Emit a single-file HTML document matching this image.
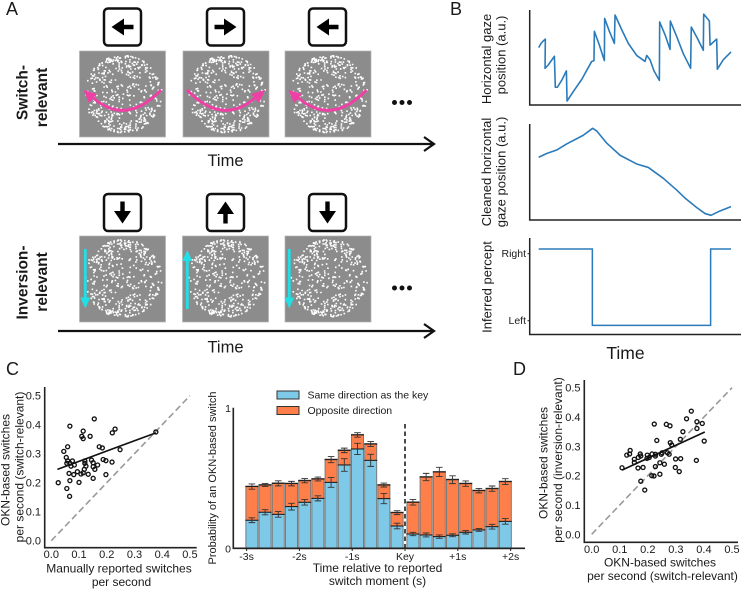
<!DOCTYPE html>
<html>
<head>
<meta charset="utf-8">
<title>OKN-based switch figure</title>
<style>
html,body{margin:0;padding:0;background:#fff;}
svg{display:block;filter:blur(.3px);}
text{font-family:"Liberation Sans",sans-serif;fill:#1a1a1a;}
</style>
</head>
<body>
<svg id="fig" width="741" height="589" viewBox="0 0 741 589" xmlns="http://www.w3.org/2000/svg">
<defs>
  <path id="stim-dots" fill="#fff" d=""></path>
  <path id="key-arrow" fill="#000" d="M-11,0 L1.5,-8.5 L1.5,-2.2 L11,-2.2 L11,2.2 L1.5,2.2 L1.5,8.5 Z"></path>
</defs>

<!-- Panel letters -->
<text x="6" y="15" font-size="18">A</text>
<text x="450" y="15" font-size="18">B</text>
<text x="6" y="375" font-size="18">C</text>
<text x="513" y="375" font-size="18">D</text>

<!-- Panel A top row -->
<g>
  <text transform="translate(27.5,92.5) rotate(-90)" text-anchor="middle" font-size="15.5" font-weight="bold">Switch-</text>
  <text transform="translate(47,97.5) rotate(-90)" text-anchor="middle" font-size="15.5" font-weight="bold">relevant</text>

  <rect x="104" y="8.5" width="37" height="37" rx="4" fill="#fff" stroke="#111" stroke-width="2.5"/>
  <use href="#key-arrow" transform="translate(122.5,27)"/>
  <rect x="207" y="8.5" width="37" height="37" rx="4" fill="#fff" stroke="#111" stroke-width="2.5"/>
  <use href="#key-arrow" transform="translate(225.5,27) rotate(180)"/>
  <rect x="309" y="8.5" width="37" height="37" rx="4" fill="#fff" stroke="#111" stroke-width="2.5"/>
  <use href="#key-arrow" transform="translate(327.5,27)"/>

  <rect x="79.5" y="51" width="86" height="86" fill="#8c8c8c" stroke="#b4b4b4" stroke-width="0.7"/>
  <use href="#stim-dots" transform="translate(122.5,93.5)"/>
  <rect x="183" y="51" width="86" height="86" fill="#8c8c8c" stroke="#b4b4b4" stroke-width="0.7"/>
  <use href="#stim-dots" transform="translate(226,93.5)"/>
  <rect x="285" y="51" width="86" height="86" fill="#8c8c8c" stroke="#b4b4b4" stroke-width="0.7"/>
  <use href="#stim-dots" transform="translate(328,93.5)"/>

  <path d="M161,90 Q124,128 90,95" fill="none" stroke="#f03fa5" stroke-width="2.8"/>
  <path d="M83.5,90 L97,94 L89,103 Z" fill="#f03fa5"/>
  <path d="M187,90 Q224,128 258,95" fill="none" stroke="#f03fa5" stroke-width="2.8"/>
  <path d="M265,90 L251,94 L259,103 Z" fill="#f03fa5"/>
  <path d="M366.5,90 Q330,128 295,95" fill="none" stroke="#f03fa5" stroke-width="2.8"/>
  <path d="M288.5,90 L302,94 L294,103 Z" fill="#f03fa5"/>

  <circle cx="394.5" cy="102.5" r="2.5" fill="#111"/>
  <circle cx="402" cy="102.5" r="2.5" fill="#111"/>
  <circle cx="409.5" cy="102.5" r="2.5" fill="#111"/>

  <path d="M58,144 H433 M424,137 L434,144 L424,151" fill="none" stroke="#111" stroke-width="2.2"/>
  <text x="225.5" y="166" text-anchor="middle" font-size="16.5">Time</text>
</g>

<!-- Panel A bottom row -->
<g>
  <text transform="translate(27.5,282.5) rotate(-90)" text-anchor="middle" font-size="15.5" font-weight="bold">Inversion-</text>
  <text transform="translate(47,282) rotate(-90)" text-anchor="middle" font-size="15.5" font-weight="bold">relevant</text>

  <rect x="104" y="194" width="37" height="37" rx="4" fill="#fff" stroke="#111" stroke-width="2.5"/>
  <use href="#key-arrow" transform="translate(122.5,212.5) rotate(-90)"/>
  <rect x="207" y="194" width="37" height="37" rx="4" fill="#fff" stroke="#111" stroke-width="2.5"/>
  <use href="#key-arrow" transform="translate(225.5,212.5) rotate(90)"/>
  <rect x="309" y="194" width="37" height="37" rx="4" fill="#fff" stroke="#111" stroke-width="2.5"/>
  <use href="#key-arrow" transform="translate(327.5,212.5) rotate(-90)"/>

  <rect x="79.5" y="236" width="86" height="86" fill="#8c8c8c" stroke="#b4b4b4" stroke-width="0.7"/>
  <use href="#stim-dots" transform="translate(122.5,279) scale(1,-1)"/>
  <rect x="182.5" y="236" width="86" height="86" fill="#8c8c8c" stroke="#b4b4b4" stroke-width="0.7"/>
  <use href="#stim-dots" transform="translate(225.5,279) scale(1,-1)"/>
  <rect x="285" y="236" width="86" height="86" fill="#8c8c8c" stroke="#b4b4b4" stroke-width="0.7"/>
  <use href="#stim-dots" transform="translate(328,279) scale(1,-1)"/>

  <path d="M85.3,249 V300" stroke="#22dfe6" stroke-width="2.8" fill="none"/>
  <path d="M85.3,308.5 L80.3,297.5 L90.3,297.5 Z" fill="#22dfe6"/>
  <path d="M187.3,309 V259" stroke="#22dfe6" stroke-width="2.8" fill="none"/>
  <path d="M187.3,250 L182.3,261 L192.3,261 Z" fill="#22dfe6"/>
  <path d="M289.3,249 V300" stroke="#22dfe6" stroke-width="2.8" fill="none"/>
  <path d="M289.3,308.5 L284.3,297.5 L294.3,297.5 Z" fill="#22dfe6"/>

  <circle cx="394.5" cy="288" r="2.5" fill="#111"/>
  <circle cx="402" cy="288" r="2.5" fill="#111"/>
  <circle cx="409.5" cy="288" r="2.5" fill="#111"/>

  <path d="M58,331 H433 M424,324 L434,331 L424,338" fill="none" stroke="#111" stroke-width="2.2"/>
  <text x="225.5" y="352.5" text-anchor="middle" font-size="16.5">Time</text>
</g>

<!-- Panel B -->
<g id="panel-b">
  <path d="M529.7,10 V105 H741" fill="none" stroke="#222" stroke-width="1.5"/>
  <path d="M529.7,124 V220 H741" fill="none" stroke="#222" stroke-width="1.5"/>
  <path d="M529.7,238 V334.5 H741" fill="none" stroke="#222" stroke-width="1.5"/>
  <text transform="translate(491,59) rotate(-90)" text-anchor="middle" font-size="13">Horizontal gaze</text>
  <text transform="translate(505.5,55) rotate(-90)" text-anchor="middle" font-size="13">position (a.u.)</text>
  <text transform="translate(491,172) rotate(-90)" text-anchor="middle" font-size="13">Cleaned horizontal</text>
  <text transform="translate(505.5,172) rotate(-90)" text-anchor="middle" font-size="13">gaze position (a.u.)</text>
  <text transform="translate(491.5,287) rotate(-90)" text-anchor="middle" font-size="13">Inferred percept</text>
  <text x="625.5" y="359" text-anchor="middle" font-size="17.5">Time</text>
</g>

<!-- Panel C -->
<g id="panel-c">
  <text transform="translate(9.5,470) rotate(-90)" text-anchor="middle" font-size="12">OKN-based switches</text>
  <text transform="translate(23.5,467) rotate(-90)" text-anchor="middle" font-size="12">per second (switch-relevant)</text>
  <text x="119" y="572.5" text-anchor="middle" font-size="12">Manually reported switches</text>
  <text x="121.5" y="586" text-anchor="middle" font-size="12">per second</text>
</g>

<!-- Bar chart -->
<g id="panel-bars">
  <rect x="277" y="391" width="22" height="8" fill="#7ec8e8" stroke="#333" stroke-width="1"/>
  <text x="307.5" y="398.5" font-size="10.5">Same direction as the key</text>
  <rect x="277" y="406.5" width="22" height="8" fill="#ff7f4a" stroke="#333" stroke-width="1"/>
  <text x="307.5" y="414" font-size="10.5">Opposite direction</text>
  <text transform="translate(216,478) rotate(-90)" text-anchor="middle" font-size="11">Probability of an OKN-based switch</text>
  <text x="377.5" y="572" text-anchor="middle" font-size="12">Time relative to reported</text>
  <text x="377.5" y="585" text-anchor="middle" font-size="12">switch moment (s)</text>
</g>

<!-- Panel D -->
<g id="panel-d">
  <text transform="translate(547.5,463) rotate(-90)" text-anchor="middle" font-size="12">OKN-based switches</text>
  <text transform="translate(562,460) rotate(-90)" text-anchor="middle" font-size="12">per second (inversion-relevant)</text>
  <text x="660" y="566.5" text-anchor="middle" font-size="12">OKN-based switches</text>
  <text x="662.5" y="580" text-anchor="middle" font-size="12">per second (switch-relevant)</text>
</g>
</svg>

<script>
// ---------- Panel B data ----------
var rawGazeTime = [0,.24,.49,.69,.66,1.0,1.63,1.73,1.94,2.39,2.88,2.95,3.6,4.47,5.51,5.75,5.79,6.31,6.83,6.86,7.35,7.87,7.94,8.63,9.32,10.19,11.06,11.23,11.58,11.99,12.55,12.58,13.14,13.66,13.69,14.35,15.04,15.8,15.87,16.5,17.12,17.16,17.75,17.82,18.51,18.58,19.2,20];
var rawGazePos = [62,67,70,72,38,42,52,16,16,24,35,0,11,25,46,47,81,65,47,96,81,67,100,83,67,53,46,53,48,35,24,92,77,60,93,75,55,38,86,73,59,101,93,65,72,37,48,57];
var cleanGazeTime = [0,.83,1.87,2.91,4.64,5.61,6.03,7.07,8.46,10.19,11.4,12.96,14.35,15.3,16.43,17.3,17.92,18.85,20];
var cleanGazePos = [66.7,71,75,82,92,100,97,83,69,59,55,42.5,29,19,9,2,0,5,10];
var perceptTime = [0,5.58,5.58,17.88,17.88,20];
var perceptState = [1.07,1.07,-0.07,-0.07,1.07,1.07];
var perceptTickValues = [1,0];
var perceptTickLabels = ["Right","Left"];

// ---------- Panel C scatter data ----------
var cManual = [.025,.056,.066,.067,.155,.115,.11,.115,.14,.22,.23,.377,.248,.173,.184,.059,.045,.054,.059,.056,.076,.067,.083,.071,.121,.121,.125,.145,.151,.167,.151,.157,.187,.197,.219,.119,.064,.081,.094,.107,.115,.133,.197,.151,.067,.1];
var cOkn = [.2,.18,.153,.395,.42,.378,.36,.352,.36,.372,.385,.375,.314,.324,.32,.324,.308,.287,.275,.267,.275,.267,.261,.257,.275,.267,.257,.278,.269,.261,.255,.246,.28,.276,.271,.246,.232,.228,.238,.23,.234,.229,.228,.215,.207,.201];
var cFitX = [.022,.377];
var cFitY = [.246,.372];

// ---------- Panel D scatter data ----------
var dSwitch = [.108,.137,.135,.125,.152,.152,.166,.173,.175,.165,.183,.175,.189,.198,.197,.205,.215,.227,.227,.248,.251,.27,.276,.223,.266,.279,.232,.28,.285,.316,.325,.338,.355,.375,.394,.375,.401,.373,.227,.243,.259,.299,.317,.298,.312,.243,.214,.222];
var dInversion = [.227,.286,.274,.27,.256,.245,.262,.274,.267,.226,.228,.181,.151,.27,.259,.262,.274,.273,.267,.273,.278,.278,.273,.376,.375,.37,.32,.3125,.305,.324,.35,.394,.42,.384,.378,.361,.318,.252,.231,.244,.239,.257,.258,.228,.214,.205,.2,.199];
var dFitX = [.108,.403];
var dFitY = [.219,.349];
var scatterTicks = [0,.1,.2,.3,.4,.5];
var scatterTickLabels = ["0.0","0.1","0.2","0.3","0.4","0.5"];

// ---------- Bar chart data ----------
var binTimes = [-2.9,-2.65,-2.4,-2.15,-1.9,-1.65,-1.4,-1.15,-.9,-.65,-.4,-.15,.15,.4,.65,.9,1.15,1.4,1.65,1.9];
var sameDirection = [.2,.257,.242,.297,.328,.356,.47,.594,.708,.627,.354,.159,.102,.095,.083,.093,.114,.131,.154,.192];
var oppositeDirection = [.24,.194,.221,.164,.154,.138,.162,.104,.1,.116,.097,.095,.226,.413,.461,.396,.347,.28,.271,.283];
var sameError = [.017,.018,.02,.024,.02,.018,.035,.045,.04,.043,.036,.02,.012,.014,.012,.01,.012,.01,.017,.02];
var totalError = [.019,.01,.018,.016,.015,.014,.022,.016,.016,.018,.014,.014,.02,.026,.033,.028,.019,.016,.019,.021];
var barTickTimes = [-3,-2,-1,0,1,2];
var barTickLabels = ["-3s","-2s","-1s","Key","+1s","+2s"];
var barYTicks = [0,1];
var barYLabels = ["0","1"];

var NS = "http://www.w3.org/2000/svg";
function mk(tag, parent, attrs, txt) {
  var el = document.createElementNS(NS, tag);
  for (var k in attrs) el.setAttribute(k, attrs[k]);
  if (txt !== undefined) el.textContent = txt;
  parent.appendChild(el);
  return el;
}
function linePath(xs, ys, fx, fy) {
  var d = "";
  for (var i = 0; i < xs.length; i++) d += (i ? "L" : "M") + fx(xs[i]).toFixed(2) + "," + fy(ys[i]).toFixed(2);
  return d;
}

// ---------- Decorative stimulus texture (not chart data) ----------
(function () {
  var s = 12345, d = "", n = 0;
  function rnd() { s = (s * 16807) % 2147483647; return s / 2147483647; }
  while (n < 430) {
    var a = rnd() * Math.PI * 2, r = Math.sqrt(rnd()) * 39;
    var edge = Math.pow(Math.abs(Math.sin(a)), 2) * Math.pow(r / 39, 5);
    if (rnd() > 0.28 + edge) continue;
    var px = r * Math.cos(a), py = r * Math.sin(a);
    d += "M" + px.toFixed(1) + "," + py.toFixed(1) + "h1.6v1.6h-1.6z";
    n++;
  }
  document.getElementById("stim-dots").setAttribute("d", d);
})();

// ---------- Panel B ----------
var panelB = document.getElementById("panel-b");
function xB(t) { return 538.7 + t * 9.615; }
function yRaw(v) { return 101 - v * 0.86; }
function yClean(v) { return 215.3 - v * 0.87; }
function yPercept(v) { return 320.7 - v * 67; }
var traceEl;
traceEl = mk("path", panelB, { d: linePath(rawGazeTime, rawGazePos, xB, yRaw), fill: "none", stroke: "#2b7bba", "stroke-width": 1.6, "stroke-linejoin": "round" });


traceEl = mk("path", panelB, { d: linePath(cleanGazeTime, cleanGazePos, xB, yClean), fill: "none", stroke: "#2b7bba", "stroke-width": 1.6, "stroke-linejoin": "round" });


traceEl = mk("path", panelB, { d: linePath(perceptTime, perceptState, xB, yPercept), fill: "none", stroke: "#2b7bba", "stroke-width": 1.5 });


perceptTickValues.forEach(function (v, i) {
  var tick = mk("line", panelB, { x1: 527.5, x2: 529.7, y1: yPercept(v), y2: yPercept(v), stroke: "#222", "stroke-width": 1 });
  
  
  var lab = mk("text", panelB, { x: 526, y: yPercept(v) + 3.5, "text-anchor": "end", "font-size": 10.5 }, perceptTickLabels[i]);
  
  
});

// ---------- Scatter builder ----------
function drawScatter(group, fx, fy, xs, ys, fitX, fitY, axisD, tickRightX, tickBaseY) {
  var axis = mk("path", group, { d: axisD, fill: "none", stroke: "#222", "stroke-width": 1.6 });
  
  
  scatterTicks.forEach(function (v, i) {
    var xl = mk("text", group, { x: fx(v), y: tickBaseY, "text-anchor": "middle", "font-size": 11 }, scatterTickLabels[i]);
    
    
    var yl = mk("text", group, { x: tickRightX, y: fy(v) + 4, "text-anchor": "end", "font-size": 11 }, scatterTickLabels[i]);
    
    
  });
  var diag = mk("line", group, { x1: fx(0), y1: fy(0), x2: fx(.5), y2: fy(.5), stroke: "#999", "stroke-width": 1.6, "stroke-dasharray": "6.5 3.5" });
  
  
  var fit = mk("line", group, { x1: fx(fitX[0]), y1: fy(fitY[0]), x2: fx(fitX[1]), y2: fy(fitY[1]), stroke: "#111", "stroke-width": 1.6 });
  
  
  xs.forEach(function (v, i) {
    var c = mk("circle", group, { cx: fx(v), cy: fy(ys[i]), r: 2, fill: "none", stroke: "#111", "stroke-width": 1.35 });
    
    
  });
}

// Panel C
function xC(v) { return 51.3 + v * 277.3; }
function yC(v) { return 540.7 - v * 290; }
drawScatter(document.getElementById("panel-c"), xC, yC, cManual, cOkn, cFitX, cFitY, "M44.7,387 V547.7 H196.7", 41, 558);

// Panel D
function xD(v) { return 591.7 + v * 280.6; }
function yD(v) { return 534.3 - v * 293.2; }
drawScatter(document.getElementById("panel-d"), xD, yD, dSwitch, dInversion, dFitX, dFitY, "M584.3,380 V542.3 H738", 580.5, 553);

// ---------- Bar chart ----------
var barGroup = document.getElementById("panel-bars");
function xBar(t) { return 405 + t * 52.8; }
function yBar(v) { return 548.3 - v * 140.3; }
var barW = 11;
function errBar(parent, x, v, e) {
  var d = "M" + (x - 3.3) + "," + yBar(v + e) + "h6.6M" + x + "," + yBar(v + e) + "V" + yBar(v - e) + "M" + (x - 3.3) + "," + yBar(v - e) + "h6.6";
  var el = mk("path", parent, { d: d, fill: "none", stroke: "#333", "stroke-width": 0.9 });
  
  
}
binTimes.forEach(function (t, i) {
  var cx = xBar(t), same = sameDirection[i], opp = oppositeDirection[i], tot = same + opp;
  var outline = mk("rect", barGroup, { x: cx - barW / 2, y: yBar(tot), width: barW, height: yBar(0) - yBar(tot), fill: "none", stroke: "#7a7a7a", "stroke-width": 2 });
  
  
  var b1 = mk("rect", barGroup, { x: cx - barW / 2, y: yBar(same), width: barW, height: yBar(0) - yBar(same), fill: "#7ec8e8" });
  
  
  var b2 = mk("rect", barGroup, { x: cx - barW / 2, y: yBar(tot), width: barW, height: yBar(same) - yBar(tot), fill: "#ff7f4a" });
  
  
  var top1 = mk("line", barGroup, { x1: cx - barW / 2 - 1, x2: cx + barW / 2 + 1, y1: yBar(same), y2: yBar(same), stroke: "#111", "stroke-width": 1 });
  
  
  var top2 = mk("line", barGroup, { x1: cx - barW / 2 - 1, x2: cx + barW / 2 + 1, y1: yBar(tot), y2: yBar(tot), stroke: "#111", "stroke-width": 1 });
  
  
  errBar(barGroup, cx, same, sameError[i]);
  errBar(barGroup, cx, tot, totalError[i]);
});
var barAxis = mk("path", barGroup, { d: "M233.3,407.7 V548.3 H525", fill: "none", stroke: "#222", "stroke-width": 1.6 });


var keyLine = mk("line", barGroup, { x1: xBar(0), x2: xBar(0), y1: 424, y2: 548, stroke: "#111", "stroke-width": 1.5, "stroke-dasharray": "4.5 3" });


barTickTimes.forEach(function (t, i) {
  var tick = mk("line", barGroup, { x1: xBar(t), x2: xBar(t), y1: 548.3, y2: 551, stroke: "#222", "stroke-width": 1 });
  
  
  var lab = mk("text", barGroup, { x: xBar(t), y: 560, "text-anchor": "middle", "font-size": 10.5 }, barTickLabels[i]);
  
  
});
barYTicks.forEach(function (v, i) {
  var lab = mk("text", barGroup, { x: 231, y: yBar(v) + 4, "text-anchor": "end", "font-size": 10.5 }, barYLabels[i]);
  
  
});
</script>
</body>
</html>
